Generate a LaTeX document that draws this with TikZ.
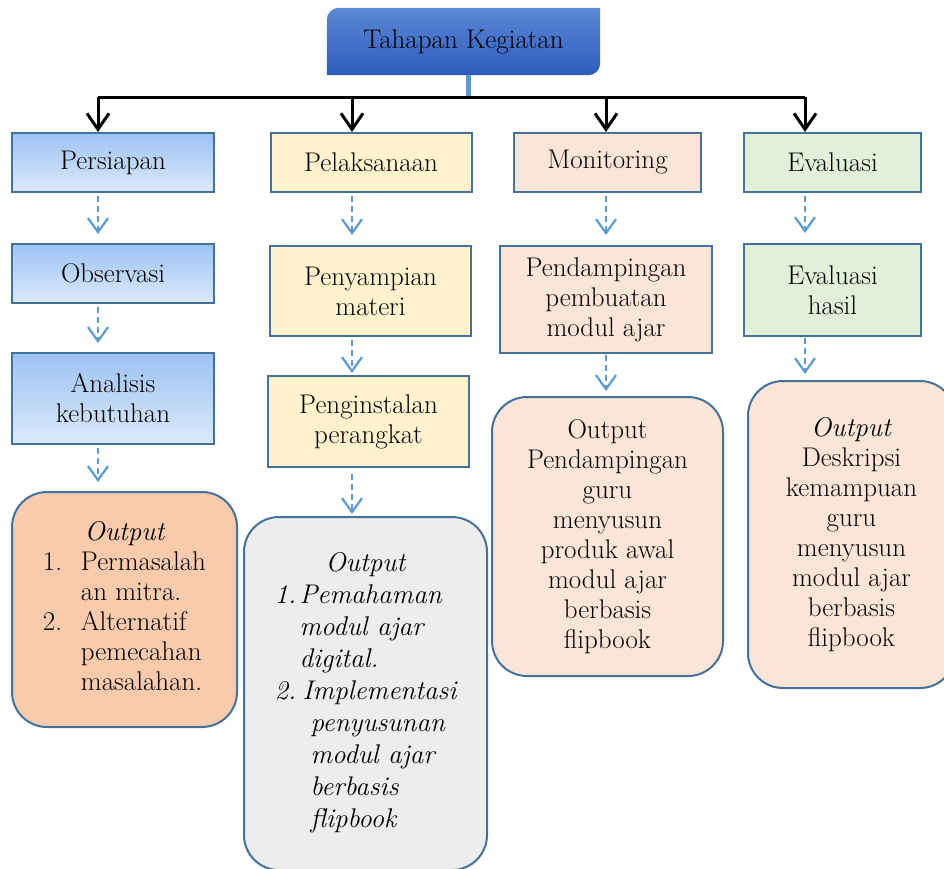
\documentclass[tikz,border=0pt]{standalone}
\usepackage{fontspec}
\usepackage{array}
\usetikzlibrary{arrows.meta,backgrounds}
\definecolor{outline}{HTML}{41719C}
\definecolor{flowblue}{HTML}{5B9BD5}
\definecolor{titletop}{HTML}{5C88D6}
\definecolor{titlebottom}{HTML}{2D5CBD}
\definecolor{preptop}{HTML}{9CC3F2}
\definecolor{prepbottom}{HTML}{DCE9FB}
\definecolor{doyellow}{HTML}{FFF2CC}
\definecolor{monpeach}{HTML}{FBE5D6}
\definecolor{evalgreen}{HTML}{E2F0D9}
\definecolor{outorange}{HTML}{F8CBAD}
\definecolor{outgray}{HTML}{EDEDED}

\begin{document}
\begin{tikzpicture}[
  x=1pt, y=-1pt,
  every node/.style={font=\fontsize{27}{30}\selectfont, align=center, inner sep=0pt},
  stage/.style={draw=outline, line width=2pt, minimum height=59pt},
  prep/.style={stage, top color=preptop, bottom color=prepbottom},
  output/.style={draw=outline, line width=2pt, rounded corners=35pt},
  flow/.style={draw=flowblue, line width=2.2pt, dash pattern=on 6pt off 4pt,
    -{Straight Barb[length=14pt,width=20pt]}},
  busline/.style={line width=3pt},
  busarrow/.style={line width=3pt, -{Straight Barb[length=16pt,width=22pt]}},
  ]
  % Page
  \path[use as bounding box] (0,0) rectangle (944,868);
  % Column axes and bus
  \coordinate (c1) at (98,0);
  \coordinate (c2) at (352,0);
  \coordinate (c3) at (606,0);
  \coordinate (c4) at (805,0);
  \coordinate (bus) at (468,97);
  % Title
  \node[minimum width=273pt, minimum height=67pt] (tahapan) at (463.5,41.5) {Tahapan Kegiatan};
  \begin{scope}[on background layer]
    \fill[white] (0,0) rectangle (944,868);
    \shade[top color=titletop, bottom color=titlebottom]
    (tahapan.south west) [rounded corners=12pt] -- (tahapan.north west) [sharp corners]
    -- (tahapan.north east) [rounded corners=12pt] -- (tahapan.south east) [sharp corners] -- cycle;
  \end{scope}
  % Persiapan
  \node[prep, minimum width=202pt] (persiapan) at (113,162.5) {Persiapan};
  \node[prep, minimum width=202pt] (observasi) at (113,273.5) {Observasi};
  \node[prep, minimum width=202pt, minimum height=91pt] (analisis) at (113,398.5) {Analisis\\kebutuhan};
  \node[output, fill=outorange, minimum width=225pt, minimum height=235pt] (out1) at (124.5,609.5)
  {\begin{tabular}{@{}p{38pt}@{}l@{}}
     \multicolumn{2}{c}{\itshape Output}\\
     1. & Permasalah\\
        & an mitra.\\
     2. & Alternatif\\
        & pemecahan\\
        & masalahan.
   \end{tabular}};
  % Pelaksanaan
  \node[stage, fill=doyellow, minimum width=201pt] (pelaksanaan) at (371,162.5) {Pelaksanaan};
  \node[stage, fill=doyellow, minimum width=201pt, minimum height=90pt] (penyampian) at (370.5,291) {Penyampian\\materi};
  \node[stage, fill=doyellow, minimum width=201pt, minimum height=91pt] (penginstalan) at (368.5,421.5) {Penginstalan\\perangkat};
  \node[output, fill=outgray, minimum width=243pt, minimum height=353pt,
    font=\fontsize{27}{32}\selectfont\itshape] (out2) at (365.5,693.5)
  {\begin{tabular}{@{}p{25pt}@{}l@{}}
     \multicolumn{2}{c}{Output}\\
     1. & Pemahaman\\
        & modul ajar\\
        & digital.\\
     2. & \hspace{3pt}Implementasi\\
        & \hspace{11pt}penyusunan\\
        & \hspace{11pt}modul ajar\\
        & \hspace{11pt}berbasis\\
        & \hspace{11pt}flipbook
   \end{tabular}};
  % Monitoring
  \node[stage, fill=monpeach, minimum width=187pt] (monitoring) at (607.5,162.5) {Monitoring};
  \node[stage, fill=monpeach, minimum width=212pt, minimum height=107pt] (pendampingan) at (606,299.5)
  {Pendampingan\\pembuatan\\modul ajar};
  \node[output, fill=monpeach, minimum width=231pt, minimum height=279pt] (out3) at (607.5,536.5)
  {Output\\Pendampingan\\guru\\menyusun\\produk awal\\modul ajar\\berbasis\\flipbook};
  % Evaluasi
  \node[stage, fill=evalgreen, minimum width=177pt] (evaluasi) at (832.5,162.5) {Evaluasi};
  \node[stage, fill=evalgreen, minimum width=177pt, minimum height=92pt] (hasil) at (832.5,290) {Evaluasi\\hasil};
  \node[output, fill=monpeach, minimum width=207pt, minimum height=307pt] (out4) at (851.5,534.5)
  {\textit{Output}\\Deskripsi\\kemampuan\\guru\\menyusun\\modul ajar\\berbasis\\flipbook};
  % Stem and bus
  \draw[flowblue, line width=5pt] (tahapan.south -| bus) -- (bus);
  \draw[busline] (c1 |- bus) -- (c4 |- bus);
  \draw[busarrow] (c1 |- bus) -- (persiapan.north -| c1);
  \draw[busarrow] (c2 |- bus) -- (pelaksanaan.north -| c2);
  \draw[busarrow] (c3 |- bus) -- (monitoring.north -| c3);
  \draw[busarrow] (c4 |- bus) -- (evaluasi.north -| c4);
  % Dashed flows
  \draw[flow, shorten <=3pt, shorten >=9pt] (persiapan.south -| c1) -- (observasi.north -| c1);
  \draw[flow, shorten <=3pt, shorten >=9pt] (observasi.south -| c1) -- (analisis.north -| c1);
  \draw[flow, shorten <=3pt, shorten >=9pt] (analisis.south -| c1) -- (out1.north -| c1);
  \draw[flow, shorten <=3pt, shorten >=10pt] (pelaksanaan.south -| c2) -- (penyampian.north -| c2);
  \draw[flow, shorten <=3pt, shorten >=2pt] (penyampian.south -| c2) -- (penginstalan.north -| c2);
  \draw[flow, shorten <=6pt, shorten >=2pt] (penginstalan.south -| c2) -- (out2.north -| c2);
  \draw[flow, shorten <=3pt, shorten >=10pt] (monitoring.south -| c3) -- (pendampingan.north -| c3);
  \draw[flow, shorten <=1pt, shorten >=5pt] (pendampingan.south -| c3) -- (out3.north -| c3);
  \draw[flow, shorten <=3pt, shorten >=10pt] (evaluasi.south -| c4) -- (hasil.north -| c4);
  \draw[flow, shorten <=1pt, shorten >=6pt] (hasil.south -| c4) -- (out4.north -| c4);
\end{tikzpicture}
\end{document}
